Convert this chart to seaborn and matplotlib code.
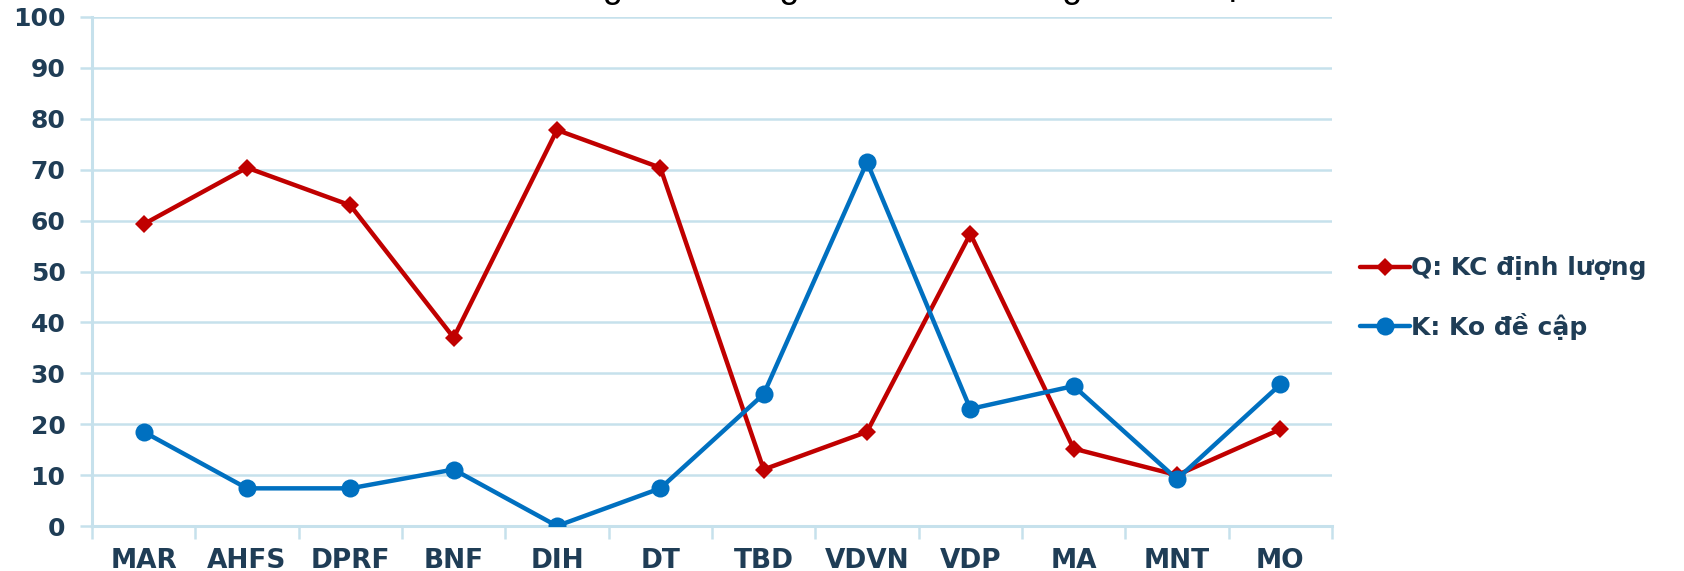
import matplotlib
matplotlib.use("Agg")
import matplotlib.pyplot as plt
from matplotlib.ticker import MultipleLocator, FixedLocator
import seaborn as sns
import pandas as pd

categories = ["MAR", "AHFS", "DPRF", "BNF", "DIH", "DT", "TBD", "VDVN", "VDP", "MA", "MNT", "MO"]
q_values = [59.3, 70.4, 63.0, 37.0, 77.8, 70.4, 11.1, 18.5, 57.4, 15.2, 10.0, 19.0]
k_values = [18.5, 7.4, 7.4, 11.1, 0.0, 7.4, 25.9, 71.5, 23.0, 27.5, 9.2, 27.8]
series_names = ["Q: KC định lượng", "K: Ko đề cập"]
title_text = "Mô tả khoảng cách dùng thuốc của các nguồn dữ liệu"

sns.set_theme(style="white")
plt.rcParams["font.family"] = ["DejaVu Sans"]

df = pd.DataFrame({
    "idx": list(range(len(categories))) * 2,
    "value": q_values + k_values,
    "series": [series_names[0]] * len(categories) + [series_names[1]] * len(categories),
})

grid_col = "#C6E1EC"
text_col = "#1F3D56"
red = "#C00000"
blue = "#0070C0"

fig = plt.figure(figsize=(16.84, 5.71), dpi=100)
ax = fig.add_axes([92 / 1684, 1 - 526 / 571, (1332 - 92) / 1684, (526 - 17) / 571])

sns.lineplot(
    data=df, x="idx", y="value", hue="series", style="series",
    hue_order=series_names, style_order=series_names,
    palette={series_names[0]: red, series_names[1]: blue},
    markers={series_names[0]: "D", series_names[1]: "o"},
    dashes=False, linewidth=3.2, markersize=9, markeredgewidth=0,
    ax=ax, zorder=3,
)
# diamond and circle markers sized separately
for line in ax.get_lines():
    if line.get_marker() == "D":
        line.set_markersize(9)
    elif line.get_marker() == "o":
        line.set_markersize(13)

ax.set_xlim(-0.5, len(categories) - 0.5)
ax.set_ylim(0, 100)
ax.yaxis.set_major_locator(MultipleLocator(10))
ax.set_xticks(range(len(categories)))
ax.set_xticklabels(categories)
ax.xaxis.set_minor_locator(FixedLocator([i - 0.5 for i in range(len(categories) + 1)]))

ax.grid(axis="y", color=grid_col, linewidth=1.8, zorder=0)
ax.grid(axis="x", visible=False)
for side in ["top", "right"]:
    ax.spines[side].set_visible(False)
for side in ["left", "bottom"]:
    ax.spines[side].set_color(grid_col)
    ax.spines[side].set_linewidth(2.2)

ax.tick_params(axis="y", which="major", length=9, width=1.8, color=grid_col,
               labelsize=18, labelcolor=text_col, pad=10)
ax.tick_params(axis="x", which="major", length=0, labelsize=19, labelcolor=text_col, pad=16)
ax.tick_params(axis="x", which="minor", length=9, width=1.8, color=grid_col, direction="out")
ax.tick_params(axis="both", which="both", bottom=True, left=True)
for lab in ax.get_xticklabels() + ax.get_yticklabels():
    lab.set_fontweight("bold")
ax.set_xlabel("")
ax.set_ylabel("")

leg = ax.legend(
    loc="center left", bbox_to_anchor=(1332 / 1684 + 0.003, 1 - 298 / 571),
    bbox_transform=fig.transFigure, frameon=False, fontsize=18,
    handlelength=2.0, handletextpad=0.05, labelspacing=1.3,
)
for t in leg.get_texts():
    t.set_color(text_col)
    t.set_fontweight("bold")

fig.text(0.495, 1 + 3 / 571, title_text, ha="center", va="baseline",
         fontsize=26, color="black", family="Liberation Sans")

fig.savefig("out.png", dpi=100)
